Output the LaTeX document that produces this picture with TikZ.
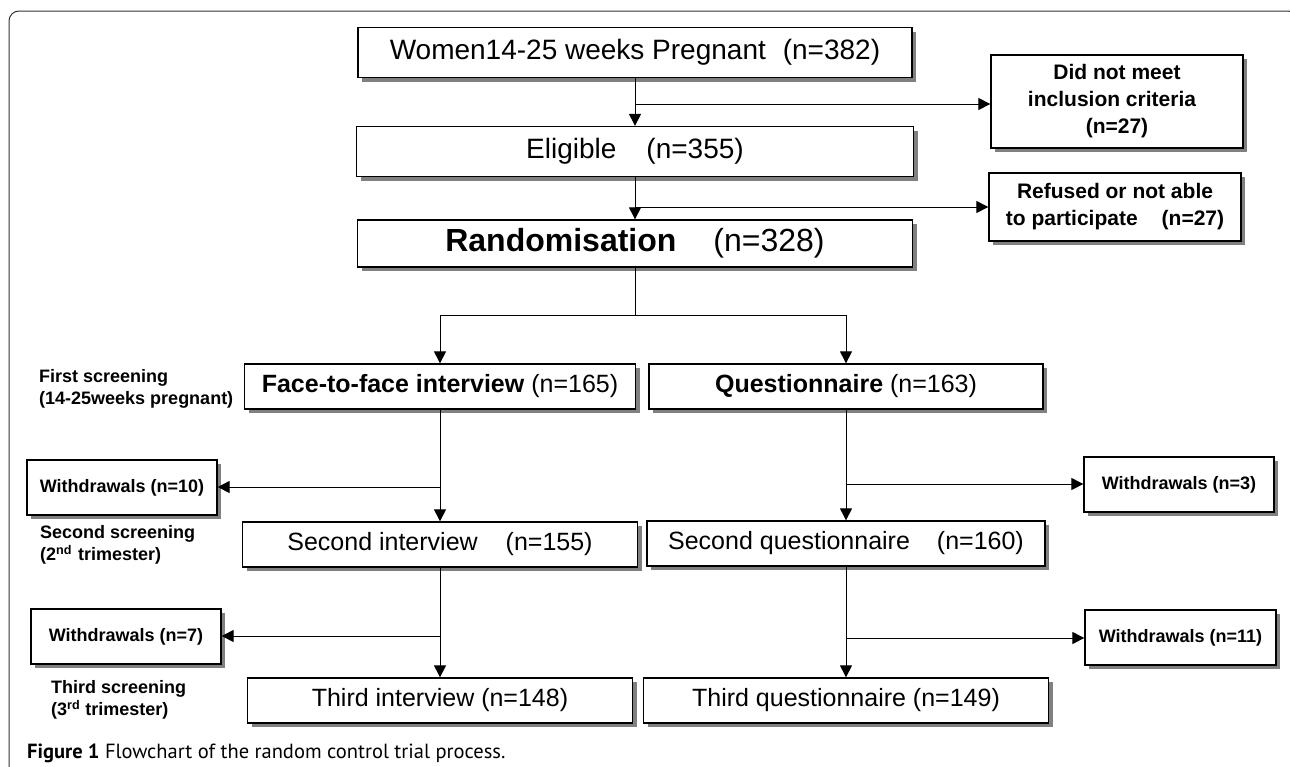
\documentclass[tikz,border=0pt]{standalone}
\usepackage{fontspec}
\setmainfont{Liberation Sans}
\newfontfamily\capfont{PT Sans}
\usetikzlibrary{arrows.meta,shadows}
\tikzset{
    %Define standard arrow tip
    >={Triangle[length=12pt,width=12pt]},
    %Define style for boxes
    mainrect/.style={
           rectangle,
           draw=black, line width=1.3pt,
           fill=white,
           drop shadow={shadow xshift=4pt,shadow yshift=-4pt,fill=black!50,opacity=1},
           inner sep=0pt,
           minimum height=45pt,
           text centered},
    siderect/.style={
           mainrect,
           minimum width=190pt,
           minimum height=55pt,
           font=\bfseries\fontsize{18}{22}\selectfont},
    exclrect/.style={
           mainrect,
           minimum width=252pt,
           align=center,
           font=\bfseries\fontsize{21}{27}\selectfont},
    stage/.style={
           anchor=west,
           align=left,
           inner sep=0pt,
           font=\bfseries\fontsize{18}{22}\selectfont},
    % Define arrow style
    pil/.style={
           ->,
           line width=1pt},
}

\begin{document}
\begin{tikzpicture}[x=1pt,y=-1pt]
\useasboundingbox (0,0) rectangle (1290,766);
\draw[black!80, line width=1pt, rounded corners=10pt] (9,790) -- (9,11) -- (1298,11) -- (1298,790);

 %nodes
\node[mainrect, minimum width=554pt, minimum height=50pt, font=\fontsize{28}{32}\selectfont] (women) at (635,52.5) {Women14-25 weeks Pregnant\hspace{17pt}(n=382)};
\node[mainrect, minimum width=557pt, minimum height=50pt, font=\fontsize{28}{32}\selectfont] (eligible) at (635,151.5) {Eligible\hspace{30pt}(n=355)};
\node[mainrect, minimum width=555pt, minimum height=47pt, font=\fontsize{32}{36}\selectfont] (random) at (635,243.5) {\textbf{Randomisation}\hspace{37pt}(n=328)};
\node[exclrect, minimum height=93pt] (notmeet) at (1117,101.5) {Did not meet\\inclusion criteria\hspace{10pt}\mbox{}\\(n=27)};
\node[exclrect, minimum height=68pt] (refused) at (1115,207) {Refused or not able\\to participate\hspace{24pt}(n=27)};

\node[mainrect, minimum width=391pt, font=\fontsize{25}{30}\selectfont] (face) at (440,386.5) {\textbf{Face-to-face interview} (n=165)};
\node[mainrect, minimum width=394pt, font=\fontsize{25}{30}\selectfont] (quest) at (846,386.5) {\textbf{Questionnaire} (n=163)};
\node[mainrect, minimum width=395pt, font=\fontsize{25}{30}\selectfont] (secint) at (440,544.5) {Second interview\hspace{28pt}(n=155)};
\node[mainrect, minimum width=398pt, font=\fontsize{25}{30}\selectfont] (secquest) at (846,543.5) {Second questionnaire\hspace{27pt}(n=160)};
\node[mainrect, minimum width=385pt, font=\fontsize{25}{30}\selectfont] (thirdint) at (440,700.5) {Third interview (n=148)};
\node[mainrect, minimum width=405pt, font=\fontsize{25}{30}\selectfont] (thirdquest) at (846,700.5) {Third questionnaire (n=149)};

\node[siderect] (wdten) at (122,487.5) {Withdrawals (n=10)};
\node[siderect] (wdthree) at (1179,484.5) {Withdrawals (n=3)};
\node[siderect] (wdseven) at (126,636.5) {Withdrawals (n=7)};
\node[siderect, minimum width=191pt] (wdeleven) at (1180.5,637.5) {Withdrawals (n=11)};

\node[stage] (first) at (39,389) {First screening\\(14-25weeks pregnant)};
\node[stage] (second) at (40,545) {Second screening\\(2\textsuperscript{nd}\hspace{6pt}trimester)};
\node[stage] (third) at (51,700) {Third screening\\(3\textsuperscript{rd} trimester)};

\node[anchor=west, inner sep=0pt, font=\capfont\fontsize{20.5}{24}\selectfont] (caption) at (27,753) {\textbf{Figure 1} Flowchart of the random control trial process.};

 %connectors
\coordinate (bone) at (635,104);
\coordinate (btwo) at (635,207);
\coordinate (split) at (635,315);
\coordinate (cone) at (440,487);
\coordinate (ctwo) at (440,636);
\coordinate (qone) at (846,484);
\coordinate (qtwo) at (846,638);

\path[pil]
    (women) edge (eligible)
    (eligible) edge (random)
    (face) edge (secint)
    (secint) edge (thirdint)
    (quest) edge (secquest)
    (secquest) edge (thirdquest);
\draw[pil] (bone) -- (bone -| notmeet.west);
\draw[pil] (btwo) -- (btwo -| refused.west);
\draw[line width=1pt] (random) -- (split);
\draw[pil] (split) -| (face);
\draw[pil] (split) -| (quest);
\draw[pil] (cone) -- (cone -| wdten.east);
\draw[pil] (ctwo) -- (ctwo -| wdseven.east);
\draw[pil] (qone) -- (qone -| wdthree.west);
\draw[pil] (qtwo) -- (qtwo -| wdeleven.west);
\end{tikzpicture}
\end{document}
